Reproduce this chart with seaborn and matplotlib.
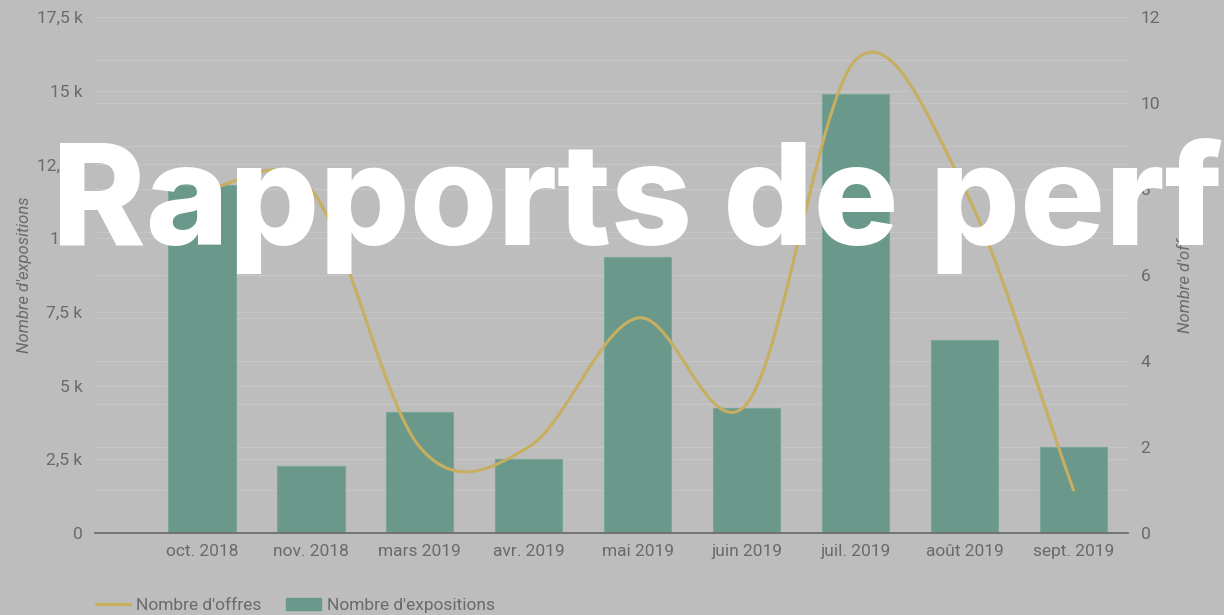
import numpy as np
import pandas as pd
import matplotlib
matplotlib.use("Agg")
import matplotlib.pyplot as plt
import seaborn as sns
from matplotlib.lines import Line2D
from matplotlib.patches import Patch

# data
months = ["oct. 2018", "nov. 2018", "mars 2019", "avr. 2019", "mai 2019",
          "juin 2019", "juil. 2019", "août 2019", "sept. 2019"]
expositions = [11800, 2270, 4100, 2510, 9370, 4240, 14900, 6550, 2920]
offres = [8, 8, 2, 2, 5, 3, 11, 8, 1]

left_ticks = [0, 2500, 5000, 7500, 10000, 12500, 15000, 17500]
left_labels = ["0", "2,5 k", "5 k", "7,5 k", "10 k", "12,5 k", "15 k", "17,5 k"]
right_ticks = [0, 2, 4, 6, 8, 10, 12]
LEFT_MAX, RIGHT_MAX = 17500, 12

BG = "#bdbdbd"
BAR = "#6a998c"
LINE = "#c8ae5f"
TXT = "#6a6a6a"
GRID = "#c6c6c6"


def smooth(y, n=40):
    """Catmull-Rom curve through the points (how the dashboard draws its line)."""
    y = np.asarray(y, float)
    m = np.zeros_like(y)
    m[1:-1] = (y[2:] - y[:-2]) / 2
    m[0] = y[1] - y[0]
    m[-1] = y[-1] - y[-2]
    xs, ys = [], []
    for i in range(len(y) - 1):
        t = np.linspace(0, 1, n, endpoint=False)
        h00 = 2 * t**3 - 3 * t**2 + 1
        h10 = t**3 - 2 * t**2 + t
        h01 = -2 * t**3 + 3 * t**2
        h11 = t**3 - t**2
        xs.append(i + t)
        ys.append(h00 * y[i] + h10 * m[i] + h01 * y[i + 1] + h11 * m[i + 1])
    xs.append([len(y) - 1])
    ys.append([y[-1]])
    return np.concatenate(xs), np.concatenate(ys)


sns.set_style("white")
plt.rcParams["font.family"] = ["Roboto", "DejaVu Sans"]

df = pd.DataFrame({"mois": months, "expositions": expositions, "offres": offres})

fig = plt.figure(figsize=(12.24, 6.15), dpi=100, facecolor=BG)
ax = fig.add_axes([95 / 1224, 1 - 533 / 615, (1128 - 95) / 1224, (533 - 17) / 615])
ax.set_facecolor(BG)

sns.barplot(data=df, x="mois", y="expositions", order=months, color=BAR,
            saturation=1, width=0.62, ax=ax, edgecolor="#78a699", linewidth=0.8)
for p in ax.patches:
    p.set_zorder(3)
ax.set_xlim(-0.98, 8.5)
ax.set_ylim(0, LEFT_MAX)
ax.set_yticks(left_ticks)
ax.set_yticklabels(left_labels)
ax.set_xlabel("")
ax.set_ylabel("Nombre d'expositions", fontstyle="italic", color=TXT, fontsize=12, labelpad=3)
ax.tick_params(axis="both", length=0, colors=TXT, labelsize=12.5)
ax.tick_params(axis="x", pad=8)
ax.tick_params(axis="y", pad=9)

# grid of both axes, drawn under the bars
for y in left_ticks[1:]:
    ax.axhline(y, color=GRID, lw=1, zorder=1)
for k in range(1, RIGHT_MAX + 1):
    ax.axhline(k * LEFT_MAX / RIGHT_MAX, color=GRID, lw=1, zorder=1)

for s in ["top", "left", "right"]:
    ax.spines[s].set_visible(False)
ax.spines["bottom"].set_color("#6e6e6e")
ax.spines["bottom"].set_linewidth(1.3)
ax.spines["bottom"].set_zorder(5)

ax2 = ax.twinx()
ax2.set_ylim(0, RIGHT_MAX)
ax2.set_yticks(right_ticks)
xs, ys = smooth(offres)
ax2.plot(xs, ys, color=LINE, lw=2.2, zorder=4)
ax2.set_ylabel("Nombre d'offres", fontstyle="italic", color=TXT, fontsize=12, labelpad=13)
ax2.tick_params(axis="y", length=0, colors=TXT, labelsize=12.5, pad=9)
for s in ["top", "left", "right", "bottom"]:
    ax2.spines[s].set_visible(False)
ax2.patch.set_visible(False)

handles = [Line2D([], [], color=LINE, lw=2.4), Patch(color=BAR)]
fig.legend(handles, ["Nombre d'offres", "Nombre d'expositions"], loc="lower left",
           bbox_to_anchor=(80 / 1224, -0.022), ncol=2, frameon=False,
           fontsize=12.5, labelcolor=TXT, handlelength=2.0, columnspacing=1.4,
           handletextpad=0.35)

fig.text(52 / 1224, 1 - 245 / 615, "Rapports de perf", color="white",
         fontsize=102, fontweight="heavy", family=["Inter", "DejaVu Sans"],
         ha="left", va="baseline", zorder=10)

fig.savefig("out.png", dpi=100, facecolor=BG)
